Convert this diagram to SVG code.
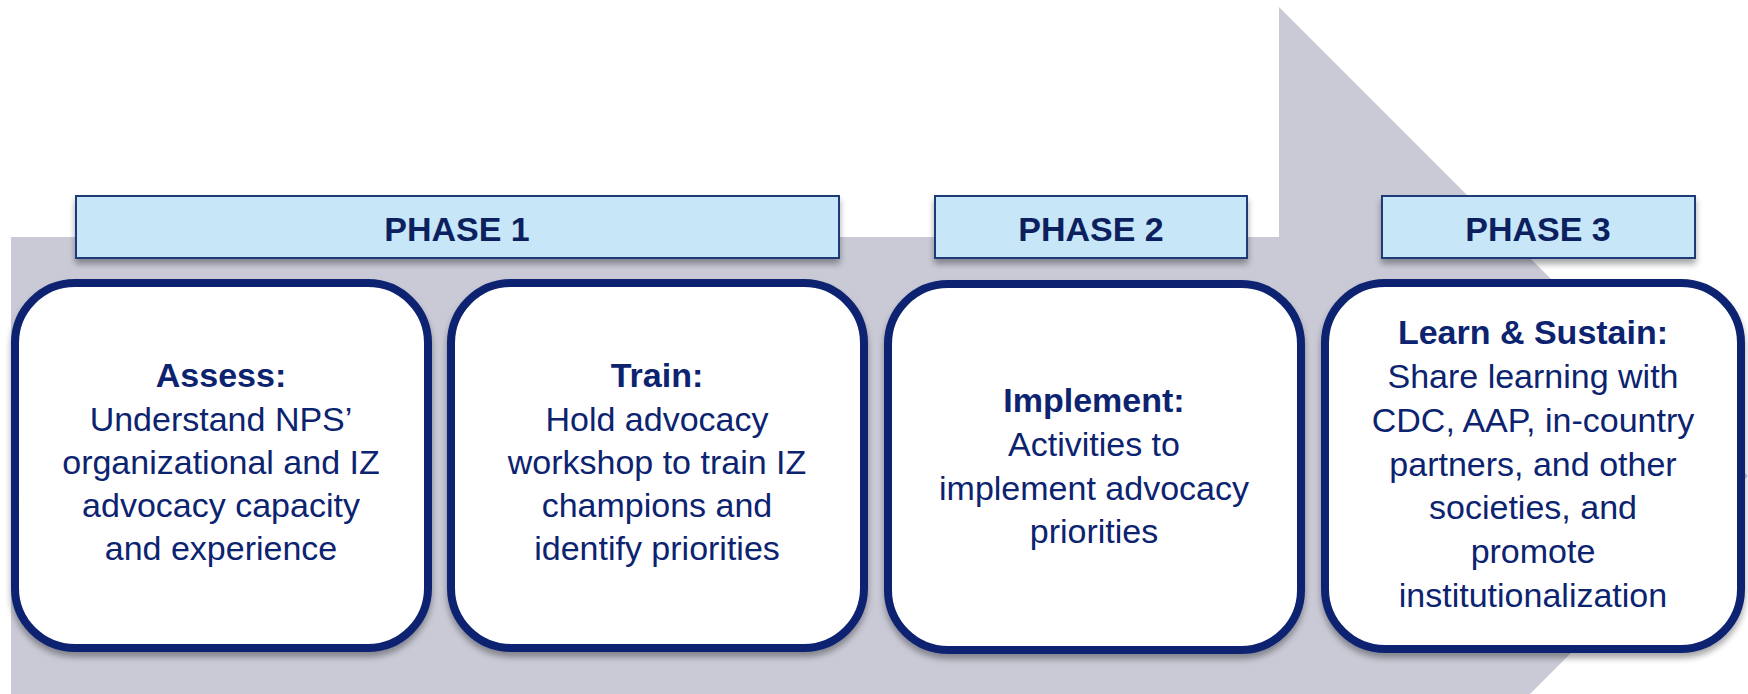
<svg xmlns="http://www.w3.org/2000/svg" width="1748" height="694" viewBox="0 0 1748 694">
<style>
.phase{fill:#C7E6F8;stroke:#1F3B78;stroke-width:2}
.box{fill:#FFFFFF;stroke:#0C2370;stroke-width:8}
.pt{font-family:"Liberation Sans",Arial,sans-serif;font-weight:bold;font-size:34px;fill:#0C1F5E;text-anchor:middle}
.bt{font-family:"Liberation Sans",Arial,sans-serif;font-size:34px;fill:#0C2370;text-anchor:middle}
.bt .h{font-weight:bold}
</style>
<defs>
<filter id="sh" x="-10%" y="-10%" width="120%" height="130%">
<feDropShadow dx="0" dy="5" stdDeviation="3" flood-color="#000" flood-opacity="0.35"/>
</filter>
</defs>
<g id="arrow">
<polygon points="11,237 1279,237 1279,7 1748,476 1530,694 11,694" fill="#CACAD7"/>
</g>
<g id="connectors"></g>
<g id="phase1"><rect class="phase" x="76" y="196" width="763" height="62" filter="url(#sh)"/><text class="pt" x="457" y="241">PHASE 1</text></g>
<g id="phase2"><rect class="phase" x="935" y="196" width="312" height="62" filter="url(#sh)"/><text class="pt" x="1091" y="241">PHASE 2</text></g>
<g id="phase3"><rect class="phase" x="1382" y="196" width="313" height="62" filter="url(#sh)"/><text class="pt" x="1538" y="241">PHASE 3</text></g>
<g id="assess"><rect class="box" x="15" y="283" width="413" height="365" rx="60" filter="url(#sh)"/>
<text class="bt"><tspan class="h" x="221" y="387">Assess:</tspan><tspan x="221" y="431">Understand NPS’</tspan><tspan x="221" y="474">organizational and IZ</tspan><tspan x="221" y="517">advocacy capacity</tspan><tspan x="221" y="560">and experience</tspan></text></g>
<g id="train"><rect class="box" x="451" y="283" width="413" height="365" rx="60" filter="url(#sh)"/>
<text class="bt"><tspan class="h" x="657" y="387">Train:</tspan><tspan x="657" y="431">Hold advocacy</tspan><tspan x="657" y="474">workshop to train IZ</tspan><tspan x="657" y="517">champions and</tspan><tspan x="657" y="560">identify priorities</tspan></text></g>
<g id="implement"><rect class="box" x="888" y="284" width="413" height="366" rx="60" filter="url(#sh)"/>
<text class="bt"><tspan class="h" x="1094" y="412">Implement:</tspan><tspan x="1094" y="456">Activities to</tspan><tspan x="1094" y="500">implement advocacy</tspan><tspan x="1094" y="543">priorities</tspan></text></g>
<g id="learn"><rect class="box" x="1325" y="283" width="416" height="366" rx="60" filter="url(#sh)"/>
<text class="bt"><tspan class="h" x="1533" y="344">Learn &amp; Sustain:</tspan><tspan x="1533" y="388">Share learning with</tspan><tspan x="1533" y="432">CDC, AAP, in-country</tspan><tspan x="1533" y="476">partners, and other</tspan><tspan x="1533" y="519">societies, and</tspan><tspan x="1533" y="563">promote</tspan><tspan x="1533" y="607">institutionalization</tspan></text></g>
</svg>
